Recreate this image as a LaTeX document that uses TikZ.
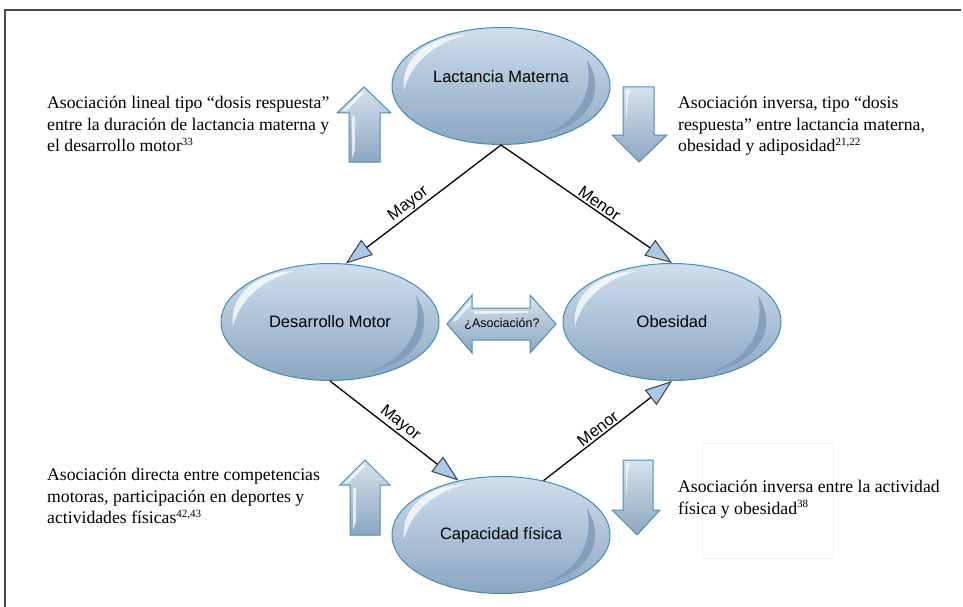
\documentclass[tikz,border=0pt]{standalone}
\usepackage{fontspec}
\setmainfont{Liberation Serif}
\setsansfont{Liberation Sans}
\usetikzlibrary{shapes.geometric,arrows.meta}
\definecolor{elltop}{HTML}{CFDEED}
\definecolor{ellbot}{HTML}{8BA6C2}
\definecolor{elledge}{HTML}{3C8DBB}
\definecolor{ellshade}{HTML}{7E9BB9}
\definecolor{headfill}{HTML}{A9C9E6}
\definecolor{headedge}{HTML}{34414D}
\definecolor{blkedge}{HTML}{4690B8}
\definecolor{blktop}{HTML}{D6E2ED}
\definecolor{blkbot}{HTML}{8CA6C1}
\definecolor{framecol}{HTML}{4A4A4A}
\newcommand{\glossyell}[3]{%
  \node[ell] (#1) at (#2,#3) {};
  \begin{scope}[shift={(#2,#3)}]
    \fill[white, opacity=0.75] (-97,4) .. controls (-101,-28) and (-72,-50) .. (-35,-51)
       .. controls (-68,-43) and (-90,-22) .. cycle;
    \fill[ellshade, opacity=0.85] (86,-26) .. controls (104,0) and (94,38) .. (39,50)
       .. controls (76,37) and (93,10) .. cycle;
  \end{scope}}
\begin{document}
\begin{tikzpicture}[x=1pt,y=-1pt,
  ell/.style={ellipse, minimum width=218pt, minimum height=117pt, inner sep=0pt,
    draw=elledge, line width=1pt, top color=elltop, bottom color=ellbot},
  elltext/.style={font=\sffamily\fontsize{16.5}{19}\selectfont, inner sep=0pt},
  conn/.style={line width=1.3pt, draw=black,
    -{Triangle[length=27pt,width=19pt,fill=headfill,color=headedge,line width=1pt]}},
  lbl/.style={font=\sffamily\fontsize{16.5}{18}\selectfont, sloped, above, inner sep=1.5pt},
  note/.style={font=\fontsize{17.7}{21.5}\selectfont, align=left, anchor=north west, inner sep=0pt},
  blk/.style={draw=blkedge, line width=1pt, top color=blktop, bottom color=blkbot},
  gloss/.style={white, opacity=0.7}
]
\useasboundingbox (0,0) rectangle (963,607);
% frame
\draw[framecol, line width=1.2pt] (5,607) -- (5,10) -- (961,10);
% faint box
\draw[gray!12, line width=0.8pt] (702,443) rectangle (833,558);

% ellipses
\glossyell{lm}{501}{86}
\glossyell{dm}{330}{322}
\glossyell{ob}{672}{322}
\glossyell{cf}{501}{535}
\node[elltext] (lmt) at (501,77) {Lactancia Materna};
\node[elltext] (dmt) at (330,322) {Desarrollo Motor};
\node[elltext] (obt) at (672,322) {Obesidad};
\node[elltext] (cft) at (501,535) {Capacidad física};

% connectors
\draw[conn] (lm.south) -- (dm.75);
\path (dm.75) -- (lm.south) node[lbl, pos=0.44] (l1) {Mayor};
\draw[conn] (lm.south) -- (ob.north) node[lbl, pos=0.55] (l2) {Menor};
\draw[conn] (dm.south) -- (cf.128) node[lbl, pos=0.5] (l3) {Mayor};
\draw[conn] (cf.52) -- (ob.south) node[lbl, pos=0.46] (l4) {Menor};

% double arrow
\shade[blk] (447,324) -- (472,295) -- (472,308) -- (530,308) -- (530,295) -- (556,324)
  -- (530,353) -- (530,340) -- (472,340) -- (472,353) -- cycle;
\fill[gloss] (452,322) -- (470,301) -- (471,304) -- (456,321) -- cycle;
\fill[gloss] (474,311) -- (528,311) -- (528,313) -- (474,314) -- cycle;
\node[font=\sffamily\fontsize{12.5}{14}\selectfont, inner sep=0pt] (asoc) at (502,324) {¿Asociación?};

% block arrows
% top-left up
\shade[blk] (364,87) -- (391,113) -- (380,113) -- (380,162) -- (349,162) -- (349,113) -- (337,113) -- cycle;
\fill[gloss] (342,111) -- (362,91) -- (364,93) -- (346,111) -- cycle;
\fill[gloss] (352,116) -- (355,116) -- (355,150) -- (352,158) -- cycle;
% top-right down
\shade[blk] (623,87) -- (654,87) -- (654,135) -- (667,135) -- (639,162) -- (612,135) -- (623,135) -- cycle;
\fill[gloss] (626,90) -- (631,90) -- (628,96) -- (626,124) -- cycle;
% bottom-left up
\shade[blk] (365,460) -- (390,485) -- (380,485) -- (380,535) -- (350,535) -- (350,485) -- (340,485) -- cycle;
\fill[gloss] (344,483) -- (363,464) -- (365,466) -- (348,483) -- cycle;
\fill[gloss] (353,488) -- (356,488) -- (356,522) -- (353,530) -- cycle;
% bottom-right down
\shade[blk] (623,460) -- (653,460) -- (653,510) -- (660,510) -- (637,535) -- (612,510) -- (623,510) -- cycle;
\fill[gloss] (626,463) -- (631,463) -- (628,469) -- (626,500) -- cycle;

% notes
\node[note] (n1) at (47,96) {Asociación lineal tipo “dosis respuesta”\\
entre la duración de lactancia materna y\\
el desarrollo motor\textsuperscript{\fontsize{11}{11}\selectfont 33}};
\node[note] (n2) at (678,96) {Asociación inversa, tipo “dosis\\
respuesta” entre lactancia materna,\\
obesidad y adiposidad\textsuperscript{\fontsize{11}{11}\selectfont 21,22}};
\node[note] (n3) at (47,468) {Asociación directa entre competencias\\
motoras, participación en deportes y\\
actividades físicas\textsuperscript{\fontsize{11}{11}\selectfont 42,43}};
\node[note] (n4) at (678,480) {Asociación inversa entre la actividad\\
física y obesidad\textsuperscript{\fontsize{11}{11}\selectfont 38}};
\end{tikzpicture}
\end{document}
